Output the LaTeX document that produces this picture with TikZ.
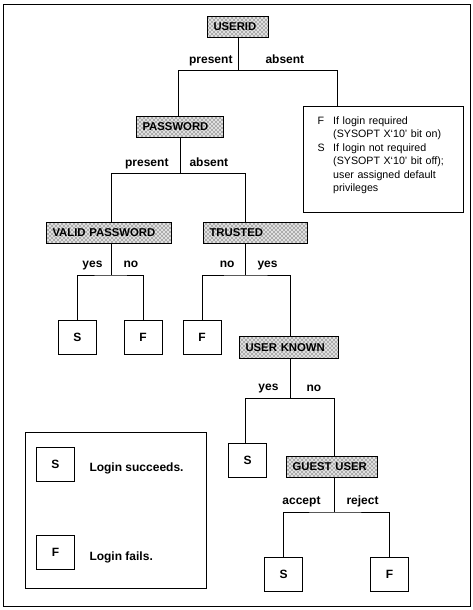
\documentclass[tikz,border=0pt]{standalone}
\usepackage{fontspec}
\setmainfont{Liberation Sans}
\usepackage{tikz}
\usetikzlibrary{patterns}
\usetikzlibrary{shapes,positioning,calc}
\tikzstyle{check} = [rectangle, draw=black, preaction={fill=black!12}, pattern=crosshatch dots, anchor=north west,
minimum height=15.75pt, inner xsep=4.5pt, inner ysep=0pt, align=left, font=\bfseries\fontsize{8.5}{10}\selectfont]
\tikzstyle{result} = [rectangle, draw=black, minimum width=28.5pt, minimum height=25.5pt,
inner sep=0pt, text centered, font=\bfseries\fontsize{9}{10}\selectfont]
\tikzstyle{branch} = [inner sep=0pt, font=\bfseries\fontsize{9}{10}\selectfont]
\tikzstyle{notebox} = [rectangle, draw=black, anchor=north west, text width=120pt, align=left,
minimum height=79.5pt, inner sep=0pt, font=\fontsize{8}{10.1}\selectfont]

\begin{document}
\begin{tikzpicture}[x=0.75pt, y=-0.75pt, line width=0.75pt]
						\useasboundingbox (0,0) rectangle (473,610);
						\draw (3,4.5) rectangle (470,606);
						\node (userid) at (207,16) [check, text width=36.75pt] {USERID};
						\node (pw) at (136,116) [check, text width=56.25pt] {PASSWORD};
						\node (valid) at (46,222) [check, text width=84.75pt] {VALID PASSWORD};
						\node (trusted) at (203,222) [check, text width=69pt] {TRUSTED};
						\node (known) at (239,336) [check, text width=65.25pt, minimum height=16.5pt] {USER KNOWN};
						\node (guest) at (286,456) [check, text width=59.25pt] {GUEST USER};
						\node (note) at (303,106) [notebox] {
							\begin{tabular}{@{\hspace{10.5pt}}p{11.8pt}@{}l@{}}
							F & If login required\\
							  & (SYSOPT X‘10’ bit on)\\
							S & If login not required\\
							  & (SYSOPT X‘10’ bit off);\\
							  & user assigned default\\
							  & privileges\\[6pt]
							\end{tabular}
							};
						\node (vs) at (77.5,337) [result] {S};
						\node (vf) at (143,337) [result] {F};
						\node (tf) at (202,337) [result] {F};
						\node (ks) at (247.5,460) [result] {S};
						\node (gs) at (283.5,574) [result] {S};
						\node (gf) at (389.5,574) [result] {F};
						\coordinate (ul) at (178,71);
						\coordinate (ur) at (337,71);
						\coordinate (pl) at (111,173);
						\coordinate (pr) at (245,173);
						\coordinate (va) at (111,275);
						\coordinate (ta) at (245,275);
						\coordinate (kl) at (245,398);
						\coordinate (kr) at (334,398);
						\coordinate (ka) at (290,398);
						\coordinate (ga) at (334,512);
						\draw (userid) -- (userid |- ul);
						\draw (pw.north -| ul) -- (ul) -- (ur) -- (ur |- note.north);
						\draw (pw) -- (pw |- pl);
						\draw (valid.north -| pl) -- (pl) -- (pr) -- (pr |- trusted.north);
						\draw (valid.south -| va) -- (va);
						\draw (vs) |- (va) -| (vf);
						\draw (trusted.south -| ta) -- (ta);
						\draw (tf) |- (ta) -| (known.north -| ka);
						\draw (known.south -| ka) -- (ka);
						\draw (ks.north -| kl) -- (kl) -- (kr) -- (kr |- guest.north);
						\draw (guest.south -| ga) -- (ga);
						\draw (gs) |- (ga) -| (gf);
						\node[branch, anchor=base east] at (233,64) {present};
						\node[branch, anchor=base west] at (265,64) {absent};
						\node[branch, anchor=base east] at (169,166) {present};
						\node[branch, anchor=base west] at (189,166) {absent};
						\node[branch, anchor=base east] at (103,267) {yes};
						\node[branch, anchor=base west] at (123,267) {no};
						\node[branch, anchor=base east] at (235,267) {no};
						\node[branch, anchor=base west] at (257,267) {yes};
						\node[branch, anchor=base east] at (279,390) {yes};
						\node[branch, anchor=base west] at (306,391) {no};
						\node[branch, anchor=base east] at (321,504) {accept};
						\node[branch, anchor=base west] at (346,504) {reject};
						\draw (25,432) rectangle (206,588);
						\node (ls) at (55.5,464) [result] {S};
						\node (lf) at (55.5,552) [result] {F};
						\node[branch, anchor=base west] at (89,471) {Login succeeds.};
						\node[branch, anchor=base west] at (89,560) {Login fails.};
					\end{tikzpicture}
\end{document}
